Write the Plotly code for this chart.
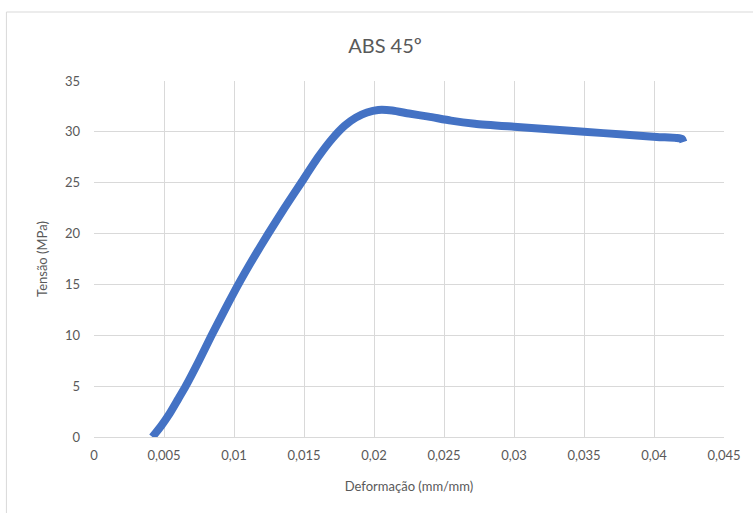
import plotly.graph_objects as go

# Stress-strain curve for ABS printed at 45 degrees
strain = [0.00417, 0.0048, 0.0054, 0.0060, 0.00655, 0.0075, 0.0084, 0.00934,
          0.01031, 0.01135, 0.01245, 0.0136, 0.0148, 0.0160, 0.0170, 0.0179,
          0.0187, 0.0195, 0.0203, 0.0213, 0.0225, 0.0239, 0.0255,
          0.0272, 0.0300, 0.0325, 0.0350, 0.0378, 0.0402, 0.0416, 0.0420, 0.0421]
stress = [0.0, 1.1, 2.3, 3.7, 5.0, 7.5, 10.0, 12.5,
          15.0, 17.5, 20.0, 22.5, 25.0, 27.5, 29.3, 30.6,
          31.4, 31.9, 32.15, 32.1, 31.8, 31.5, 31.1,
          30.8, 30.5, 30.25, 30.0, 29.75, 29.5, 29.4, 29.3, 29.0]

x_ticks = [0, 0.005, 0.01, 0.015, 0.02, 0.025, 0.03, 0.035, 0.04, 0.045]
y_ticks = [0, 5, 10, 15, 20, 25, 30, 35]

title_text = "ABS 45º"
x_title = "Deformação (mm/mm)"
y_title = "Tensão (MPa)"

BLUE = "#4472C4"
GRID = "#D9D9D9"
TEXT = "#595959"
FONT = "Lato, 'Open Sans', sans-serif"

fig = go.Figure()
fig.add_trace(go.Scatter(
    x=strain, y=stress, mode="lines",
    line=dict(color=BLUE, width=8, shape="spline", smoothing=0.6),
    showlegend=False, hoverinfo="x+y",
))

# chart-area border (top and left edges visible)
fig.add_shape(type="rect", xref="paper", yref="paper",
              x0=(6 - 94) / 633, x1=(770 - 94) / 633,
              y0=(437 - 530) / 356, y1=(437 - 12) / 356,
              line=dict(color="#D9D9D9", width=1), fillcolor="rgba(0,0,0,0)",
              layer="below")

fig.update_layout(
    width=753, height=513,
    margin=dict(l=94, r=26, t=81, b=76),
    paper_bgcolor="white", plot_bgcolor="white",
    separators=", ",
    font=dict(family=FONT, color=TEXT, size=13),
    title=dict(text=title_text, x=385 / 753, xanchor="center",
               y=1 - 46 / 513, yanchor="middle",
               font=dict(size=20, color=TEXT, family=FONT)),
    xaxis=dict(range=[0, 0.045], tickvals=x_ticks, showgrid=True, gridcolor=GRID,
               gridwidth=1, zeroline=False, showline=True, linecolor=GRID,
               ticks="", ticklabelstandoff=6,
               tickfont=dict(size=13, color=TEXT),
               title=dict(text=x_title, standoff=20, font=dict(size=13, color=TEXT))),
    yaxis=dict(range=[0, 35], tickvals=y_ticks, showgrid=True, gridcolor=GRID,
               gridwidth=1, zeroline=False, showline=False,
               ticks="", ticklabelstandoff=13,
               tickfont=dict(size=13, color=TEXT),
               title=dict(text=y_title, standoff=14, font=dict(size=13, color=TEXT))),
)

fig.write_html("out.html")
